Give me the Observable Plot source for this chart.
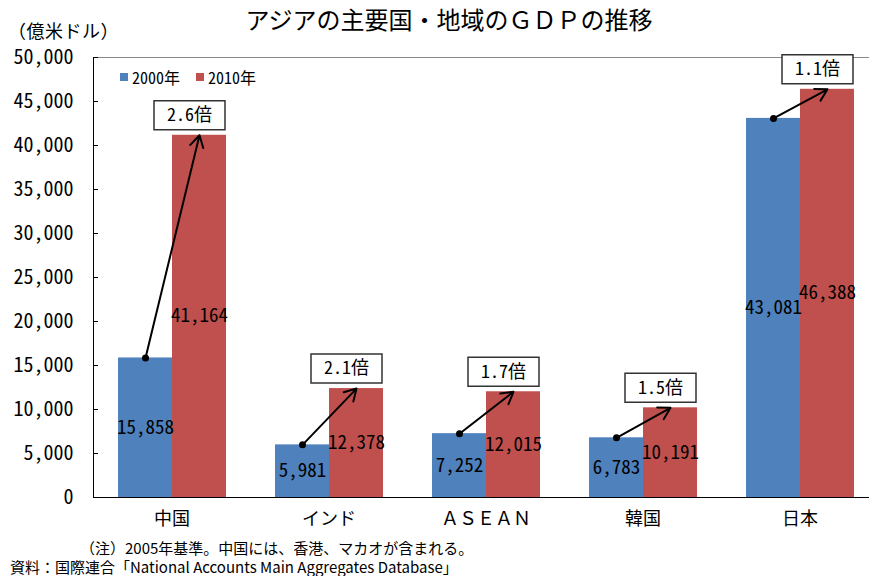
<!DOCTYPE html>
<html><head><meta charset="utf-8">
<script src="https://cdn.jsdelivr.net/npm/d3@7"></script>
<script src="https://cdn.jsdelivr.net/npm/@observablehq/plot@0.6"></script>
<style>
body{margin:0;background:#fff;}
#wrap{position:relative;width:869px;height:576px;overflow:hidden;font-family:"Noto Sans Mono CJK JP","Noto Sans CJK JP",sans-serif;color:#000;}
#chart{position:absolute;left:0;top:0;}
.abs{position:absolute;white-space:nowrap;line-height:1;}
#title{left:0;width:898px;text-align:center;top:7px;font-size:24px;font-family:"Noto Sans CJK JP",sans-serif;}
#unit{left:8px;top:21px;font-size:18px;letter-spacing:0.5px;}
.sw{position:absolute;width:8px;height:8px;}
.lg{font-size:16px;}
.fn{font-size:15px;font-family:"Noto Sans CJK JP",sans-serif;}
</style></head>
<body>
<div id="wrap">
  <div id="chart"></div>
  <div id="title" class="abs">アジアの主要国・地域のＧＤＰの推移</div>
  <div id="unit" class="abs">（億米ドル）</div>
  <div id="legend"></div>
  <div class="abs fn" style="left:80px;top:540px;">（注）2005年基準。中国には、香港、マカオが含まれる。</div>
  <div class="abs fn" style="left:10px;top:559px;">資料：国際連合「National Accounts Main Aggregates Database」</div>
</div>
<script>
const countries = ["中国", "インド", "ＡＳＥＡＮ", "韓国", "日本"];
const years = ["2000年", "2010年"];
const gdp2000 = [15858, 5981, 7252, 6783, 43081];
const gdp2010 = [41164, 12378, 12015, 10191, 46388];
const ratioLabels = ["2.6倍", "2.1倍", "1.7倍", "1.5倍", "1.1倍"];
const yTicks = [0, 5000, 10000, 15000, 20000, 25000, 30000, 35000, 40000, 45000, 50000];
const colors = ["#4F81BD", "#C0504D"];

const FONT = '"Noto Sans Mono CJK JP","Noto Sans CJK JP",sans-serif';
const rows = countries.flatMap((c, i) => [
  {country: c, year: years[0], value: gdp2000[i]},
  {country: c, year: years[1], value: gdp2010[i]}
]);
const pairs = countries.map((c, i) => ({country: c, v0: gdp2000[i], v1: gdp2010[i], ratio: ratioLabels[i]}));
const fmt = d3.format(",");
const boxSymbol = {draw(ctx) {
  ctx.moveTo(-35.5, -14.5); ctx.lineTo(35.5, -14.5); ctx.lineTo(35.5, 14.5); ctx.lineTo(-35.5, 14.5); ctx.closePath();
}};

const chart = Plot.plot({
  width: 869, height: 576,
  marginLeft: 93, marginRight: -9, marginTop: 57, marginBottom: 79,
  style: {fontFamily: FONT, fontSize: "18px", background: "transparent", color: "#000"},
  fx: {domain: countries, padding: 0, label: null},
  x: {domain: years, paddingInner: 0, paddingOuter: 0.4537, axis: null},
  y: {domain: [0, 50000]},
  color: {domain: years, range: colors},
  marks: [
    Plot.ruleY([50000], {stroke: "#888"}),
    Plot.barY(rows, {fx: "country", x: "year", y: "value", fill: "year"}),
    Plot.ruleY([0], {stroke: "#000"}),
    Plot.frame({anchor: "left", facetAnchor: "left"}),
    Plot.axisY(yTicks, {tickSize: -5, tickPadding: 25, tickFormat: fmt, fontSize: 20}),
    Plot.axisFx({anchor: "bottom", tickSize: 0, tickPadding: 15, fontSize: 18, label: null}),
    Plot.text(rows, {fx: "country", x: "year", y: d => d.value / 2, text: d => fmt(d.value), fontSize: 19}),
    Plot.arrow(pairs, {fx: "country", x1: () => years[0], y1: "v0", x2: () => years[1], y2: "v1", stroke: "#000", strokeWidth: 2, headLength: 10}),
    Plot.dot(pairs, {fx: "country", x: () => years[0], y: "v0", r: 3.5, fill: "#000"}),
    Plot.dot(pairs, {fx: "country", x: () => years[1], y: "v1", symbol: boxSymbol, fill: "#fff", stroke: "#333", dx: -10, dy: -20}),
    Plot.text(pairs, {fx: "country", x: () => years[1], y: "v1", text: "ratio", dx: -10, dy: -20, fontSize: 18})
  ]
});
document.getElementById("chart").appendChild(chart);

const legend = document.getElementById("legend");
[[120, 132], [196, 208]].forEach(([sx, tx], i) => {
  const s = document.createElement("div");
  s.className = "sw"; s.style.left = sx + "px"; s.style.top = "73px"; s.style.background = colors[i];
  legend.appendChild(s);
  const t = document.createElement("div");
  t.className = "abs lg"; t.style.left = tx + "px"; t.style.top = "69px"; t.textContent = years[i];
  legend.appendChild(t);
});
</script>
</body></html>
